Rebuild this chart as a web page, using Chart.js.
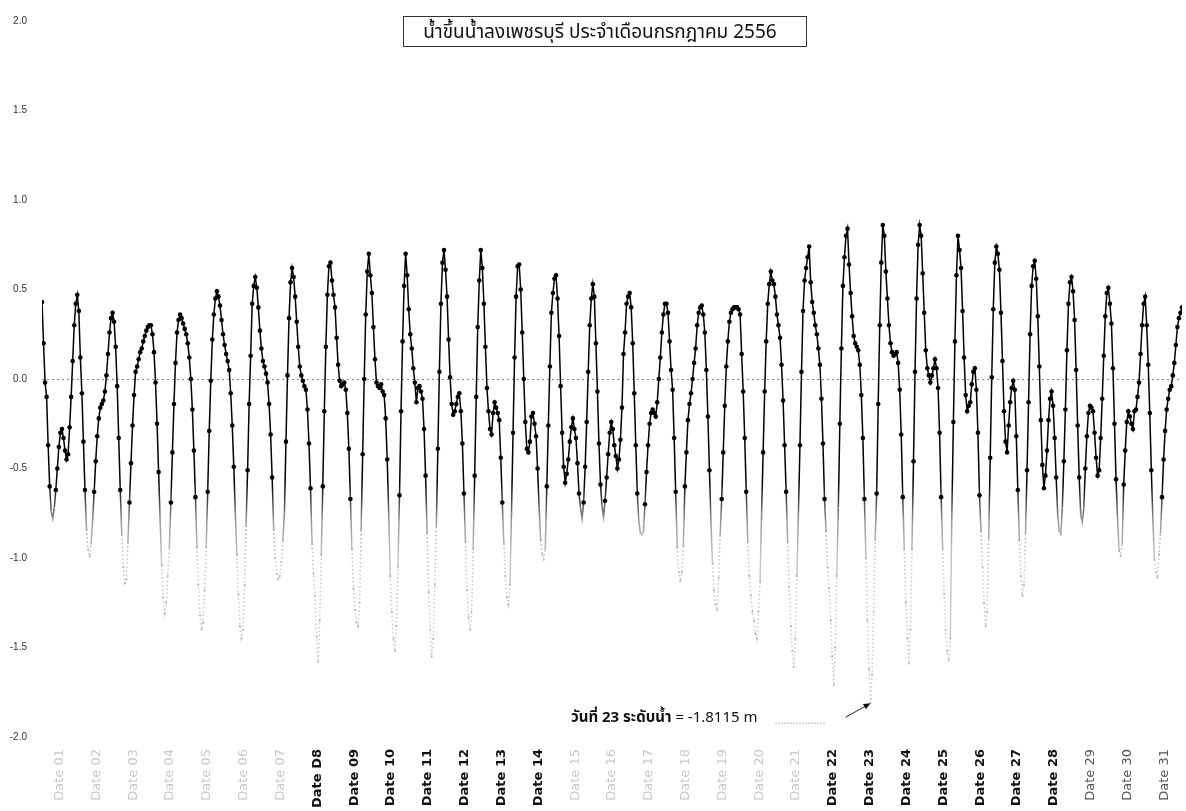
<!DOCTYPE html>
<html>
<head>
<meta charset="utf-8">
<script src="https://cdn.jsdelivr.net/npm/chart.js@4.4.1/dist/chart.umd.min.js"></script>
<style>
html,body{margin:0;padding:0;background:#fff;}
#wrap{position:relative;width:1186px;height:811px;}
</style>
</head>
<body>
<div id="wrap"><canvas id="c" width="1186" height="811"></canvas></div>
<script>
// ---------- text ----------
const chartTitle = 'น้ำขึ้นน้ำลงเพชรบุรี ประจำเดือนกรกฎาคม 2556';
const noteLabel = 'วันที่ 23 ระดับน้ำ';
const noteValue = '= -1.8115 m';
const noteHour = 540;          // hour index of the annotated low (day 23)
const noteLevel = -1.8115;     // annotated level (m)

// ---------- categories (one label per day) ----------
const dayLabels = ['Date 01','Date 02','Date 03','Date 04','Date 05','Date 06','Date 07',
  'Date D8','Date 09','Date 10','Date 11','Date 12','Date 13','Date 14',
  'Date 15','Date 16','Date 17','Date 18','Date 19','Date 20','Date 21',
  'Date 22','Date 23','Date 24','Date 25','Date 26','Date 27','Date 28',
  'Date 29','Date 30','Date 31'];

// ---------- y-axis tick values ----------
const levelTicks = [-2.0,-1.5,-1.0,-0.5,0.0,0.5,1.0,1.5,2.0];

// ---------- hourly water level (m), tide cycle by tide cycle ----------
const levels = [
  0.43,0.20,-0.02,-0.10,-0.37,-0.60,-0.74,-0.78,-0.72,-0.62,-0.50,-0.38,-0.30,-0.28,-0.33,-0.40,-0.45,-0.42,-0.27,-0.10,0.10,0.30,0.42,0.47,
  0.38,0.12,-0.08,-0.35,-0.62,-0.84,-0.95,-0.99,-0.92,-0.79,-0.63,-0.46,-0.32,-0.22,-0.16,-0.14,-0.12,-0.07,0.02,0.14,0.26,0.34,0.37,
  0.32,0.18,-0.04,-0.33,-0.62,-0.87,-1.05,-1.14,-1.12,-0.91,-0.69,-0.47,-0.26,-0.09,0.04,0.07,0.11,0.15,0.17,0.21,0.24,0.27,0.29,0.30,0.30,
  0.25,0.15,-0.02,-0.25,-0.52,-0.79,-1.04,-1.22,-1.31,-1.25,-1.10,-0.94,-0.69,-0.41,-0.14,0.09,0.26,0.33,0.36,
  0.34,0.31,0.28,0.25,0.20,0.12,0.00,-0.17,-0.40,-0.66,-0.94,-1.15,-1.32,-1.40,-1.36,-1.18,-0.94,-0.63,-0.29,-0.01,0.22,0.36,0.45,0.49,
  0.46,0.41,0.33,0.25,0.19,0.14,0.10,0.05,-0.08,-0.26,-0.49,-0.75,-0.98,-1.20,-1.38,-1.45,-1.40,-1.15,-0.82,-0.51,-0.14,0.13,0.42,0.52,0.57,
  0.51,0.40,0.27,0.17,0.10,0.07,0.03,-0.02,-0.14,-0.31,-0.55,-0.84,-1.00,-1.09,-1.12,-1.10,-1.02,-0.90,-0.75,-0.35,0.02,0.34,0.54,0.62,
  0.57,0.46,0.32,0.18,0.07,0.02,-0.01,-0.04,-0.06,-0.17,-0.36,-0.61,-0.92,-1.09,-1.21,-1.44,-1.58,-1.35,-0.98,-0.60,-0.18,0.18,0.47,0.63,0.65,
  0.55,0.47,0.40,0.23,0.08,-0.01,-0.04,-0.03,-0.02,-0.06,-0.19,-0.39,-0.67,-0.95,-1.17,-1.29,-1.36,-1.38,-1.25,-0.84,-0.42,0.00,0.36,0.60,0.70,
  0.58,0.48,0.29,0.11,-0.02,-0.04,-0.05,-0.03,-0.07,-0.09,-0.22,-0.45,-0.76,-1.10,-1.30,-1.45,-1.52,-1.38,-1.05,-0.65,-0.18,0.21,0.52,0.70,
  0.58,0.39,0.25,0.17,0.06,-0.02,-0.13,-0.05,-0.04,-0.07,-0.11,-0.28,-0.54,-0.86,-1.19,-1.40,-1.55,-1.45,-1.15,-0.82,-0.39,0.04,0.42,0.65,
  0.72,0.61,0.46,0.22,0.01,-0.14,-0.20,-0.18,-0.14,-0.10,-0.08,-0.18,-0.36,-0.64,-0.91,-1.18,-1.33,-1.40,-1.30,-0.95,-0.54,-0.10,0.29,0.55,
  0.72,0.62,0.42,0.18,-0.05,-0.18,-0.28,-0.31,-0.19,-0.13,-0.16,-0.19,-0.23,-0.44,-0.69,-0.92,-1.10,-1.22,-1.26,-1.15,-0.75,-0.30,0.12,0.46,
  0.63,0.64,0.50,0.26,0.00,-0.24,-0.39,-0.41,-0.35,-0.21,-0.19,-0.25,-0.32,-0.50,-0.72,-0.90,-0.98,-1.01,-0.95,-0.60,-0.26,0.07,0.37,0.48,
  0.56,0.58,0.45,0.24,-0.04,-0.30,-0.49,-0.58,-0.53,-0.45,-0.35,-0.27,-0.22,-0.28,-0.33,-0.47,-0.64,-0.72,-0.78,-0.69,-0.49,-0.24,0.04,0.30,0.45,
  0.53,0.46,0.20,-0.07,-0.36,-0.59,-0.71,-0.77,-0.68,-0.55,-0.42,-0.30,-0.24,-0.28,-0.37,-0.43,-0.50,-0.45,-0.34,-0.16,0.14,0.26,0.42,0.46,
  0.48,0.40,0.20,-0.08,-0.37,-0.64,-0.80,-0.86,-0.87,-0.85,-0.70,-0.52,-0.37,-0.25,-0.19,-0.17,-0.19,-0.21,-0.13,0.00,0.12,0.26,0.36,0.42,
  0.42,0.37,0.21,0.05,-0.06,-0.33,-0.63,-0.94,-1.08,-1.13,-1.08,-0.93,-0.60,-0.41,-0.23,-0.14,-0.08,0.00,0.09,0.17,0.30,0.37,0.40,
  0.41,0.36,0.26,0.05,-0.21,-0.51,-0.80,-1.03,-1.18,-1.26,-1.29,-1.11,-0.87,-0.67,-0.41,-0.15,0.07,0.21,0.32,0.37,0.39,0.40,0.40,
  0.40,0.39,0.36,0.14,-0.07,-0.33,-0.63,-0.91,-1.10,-1.21,-1.30,-1.35,-1.42,-1.45,-1.30,-1.13,-0.75,-0.41,-0.07,0.21,0.42,0.53,
  0.60,0.55,0.53,0.46,0.36,0.30,0.23,0.08,-0.12,-0.37,-0.63,-0.91,-1.16,-1.38,-1.52,-1.61,-1.45,-1.10,-0.75,-0.37,0.04,0.38,0.55,0.62,0.68,
  0.74,0.54,0.43,0.37,0.30,0.25,0.17,0.08,-0.11,-0.36,-0.67,-0.85,-1.05,-1.17,-1.35,-1.55,-1.71,-1.50,-1.10,-0.72,-0.25,0.17,0.52,0.68,0.80,
  0.84,0.64,0.48,0.35,0.24,0.20,0.18,0.16,0.08,-0.09,-0.33,-0.67,-1.00,-1.35,-1.62,-1.81,-1.65,-1.30,-0.90,-0.64,-0.14,0.30,0.65,
  0.86,0.80,0.60,0.45,0.30,0.20,0.15,0.13,0.14,0.15,0.09,-0.06,-0.31,-0.66,-0.95,-1.25,-1.45,-1.59,-1.40,-0.95,-0.46,0.04,0.45,0.75,
  0.86,0.80,0.59,0.37,0.16,0.06,0.02,-0.02,0.02,0.06,0.11,0.06,-0.05,-0.30,-0.66,-0.95,-1.20,-1.40,-1.52,-1.57,-1.45,-0.75,-0.24,0.21,0.58,
  0.80,0.72,0.62,0.38,0.12,-0.09,-0.18,-0.15,-0.13,-0.03,0.04,0.06,-0.06,-0.30,-0.65,-0.85,-1.05,-1.25,-1.38,-1.30,-0.89,-0.44,0.01,0.39,0.65,
  0.74,0.70,0.61,0.37,0.10,-0.18,-0.35,-0.41,-0.26,-0.13,-0.05,-0.01,-0.06,-0.32,-0.62,-0.90,-1.10,-1.21,-1.15,-0.86,-0.51,-0.13,0.25,0.52,0.63,
  0.66,0.56,0.35,0.07,-0.23,-0.48,-0.61,-0.54,-0.40,-0.23,-0.11,-0.07,-0.15,-0.33,-0.55,-0.76,-0.85,-0.87,-0.72,-0.46,-0.17,0.16,0.42,0.54,
  0.57,0.49,0.33,0.05,-0.26,-0.55,-0.76,-0.80,-0.72,-0.50,-0.32,-0.19,-0.15,-0.16,-0.18,-0.30,-0.44,-0.54,-0.51,-0.33,-0.11,0.13,0.35,0.48,
  0.51,0.42,0.31,0.06,-0.25,-0.56,-0.78,-0.96,-0.99,-0.92,-0.59,-0.40,-0.24,-0.18,-0.21,-0.25,-0.28,-0.18,-0.17,-0.10,-0.02,0.14,0.30,0.42,
  0.46,0.30,0.08,-0.19,-0.51,-0.78,-1.01,-1.08,-1.11,-0.98,-0.86,-0.66,-0.45,-0.29,-0.17,-0.11,-0.06,-0.04,0.02,0.09,0.19,0.29,0.34,0.37,0.40
];

// ---------- styles (kept apart from the data) ----------
const labelTone = ['faint','faint','faint','faint','faint','faint','faint',
  'dark','dark','dark','dark','dark','dark','dark',
  'faint','faint','faint','faint','faint','faint','faint',
  'dark','dark','dark','dark','dark','dark','dark',
  'mid','mid','mid'];
const toneColor = {faint:'#c9c9c9', dark:'#111111', mid:'#555555'};
const thaiFont = '"Noto Sans Thai","Noto Sans Thai UI","Loma","Garuda","Tlwg Typo","Noto Sans","DejaVu Sans",sans-serif';

function fadeStroke(ctx){
  const ch = ctx.chart, a = ch.chartArea;
  if (!a || !ch.scales.y) return '#000';
  const ys = ch.scales.y;
  const f = v => Math.min(1, Math.max(0, (ys.getPixelForValue(v) - a.top) / (a.bottom - a.top)));
  const g = ch.ctx.createLinearGradient(0, a.top, 0, a.bottom);
  g.addColorStop(0, '#000');
  g.addColorStop(f(-0.58), '#000');
  g.addColorStop(f(-0.80), '#9a9a9a');
  g.addColorStop(f(-1.00), '#c6c6c6');
  g.addColorStop(1, '#d2d2d2');
  return g;
}

const notesPlugin = {
  id: 'notes',
  afterDraw(chart){
    const c = chart.ctx, xs = chart.scales.x, ys = chart.scales.y;
    c.save();
    // title box
    c.strokeStyle = '#333'; c.lineWidth = 1;
    c.strokeRect(403.5, 16.5, 403, 30);
    c.fillStyle = '#111';
    c.font = '19px ' + thaiFont;
    c.textAlign = 'center'; c.textBaseline = 'alphabetic';
    c.fillText(chartTitle, 600, 38);

    // annotation of the lowest level
    const tipX = xs.getPixelForValue(noteHour), tipY = ys.getPixelForValue(noteLevel);
    const tailX = tipX - 25, tailY = tipY + 14;
    c.strokeStyle = '#222'; c.lineWidth = 1;
    c.beginPath(); c.moveTo(tailX, tailY); c.lineTo(tipX - 3, tipY + 1.7); c.stroke();
    const ang = Math.atan2(tipY - tailY, tipX - tailX);
    c.fillStyle = '#111';
    c.beginPath();
    c.moveTo(tipX, tipY);
    c.lineTo(tipX - 7*Math.cos(ang) + 3*Math.sin(ang), tipY - 7*Math.sin(ang) - 3*Math.cos(ang));
    c.lineTo(tipX - 7*Math.cos(ang) - 3*Math.sin(ang), tipY - 7*Math.sin(ang) + 3*Math.cos(ang));
    c.closePath(); c.fill();
    // short dotted leader
    c.strokeStyle = '#777'; c.setLineDash([1,2]);
    c.beginPath(); c.moveTo(tipX - 95, tipY + 20); c.lineTo(tipX - 45, tipY + 20); c.stroke();
    c.setLineDash([]);
    // text
    c.textAlign = 'right'; c.textBaseline = 'alphabetic';
    c.font = '15px ' + thaiFont;
    const rightX = tipX - 113, baseY = tipY + 19;
    c.fillText(noteValue, rightX, baseY);
    const w = c.measureText(noteValue).width;
    c.font = 'bold 15px ' + thaiFont;
    c.fillText(noteLabel + ' ', rightX - w, baseY);
    c.restore();
  }
};

new Chart(document.getElementById('c'), {
  type: 'line',
  data: {
    datasets: [{
      label: 'ระดับน้ำ',
      data: levels.map((v, i) => ({x: i, y: v})),
      borderColor: fadeStroke,
      borderWidth: 1.5,
      tension: 0,
      pointRadius: c => (c.raw && c.raw.y >= -0.7) ? 2.3 : 0.9,
      pointBackgroundColor: c => (c.raw && c.raw.y >= -0.7) ? '#000' : '#a8a8a8',
      pointBorderWidth: 0,
      pointHoverRadius: 3,
      segment: {
        borderDash: c => (c.p0.parsed.y < -0.8 && c.p1.parsed.y < -0.8) ? [1.5, 2.5] : undefined
      }
    }]
  },
  options: {
    responsive: false,
    animation: false,
    devicePixelRatio: 1,
    layout: {padding: {top: 15, right: 4, left: 0, bottom: 0}},
    plugins: {legend: {display: false}, tooltip: {enabled: false}, title: {display: false}},
    scales: {
      x: {
        type: 'linear',
        min: 0, max: levels.length - 1,
        grid: {display: false},
        border: {display: false},
        afterBuildTicks: s => { s.ticks = dayLabels.map((_, d) => ({value: d * 24 + 11.5})); },
        afterFit: s => { s.height = 74; },
        ticks: {
          autoSkip: false,
          minRotation: 90, maxRotation: 90,
          padding: 4,
          callback: (v, i) => dayLabels[i],
          color: c => toneColor[labelTone[c.index]] || '#111',
          font: c => ({family: '"DejaVu Sans", sans-serif', size: 13,
                       weight: labelTone[c.index] === 'dark' ? 'bold' : 'normal'})
        }
      },
      y: {
        min: -2, max: 2,
        afterBuildTicks: s => { s.ticks = levelTicks.map(v => ({value: v})); },
        afterFit: s => { s.width = 42; },
        grid: {
          drawTicks: false,
          color: c => (c.tick && c.tick.value === 0) ? '#8a8a8a' : 'rgba(0,0,0,0)',
          lineWidth: 1
        },
        border: {display: false, dash: [2, 3]},
        ticks: {
          padding: 15,
          color: '#333',
          font: {family: '"Liberation Sans", Arial, sans-serif', size: 10},
          callback: v => Number(v).toFixed(1)
        }
      }
    }
  },
  plugins: [notesPlugin]
});
</script>
</body>
</html>
